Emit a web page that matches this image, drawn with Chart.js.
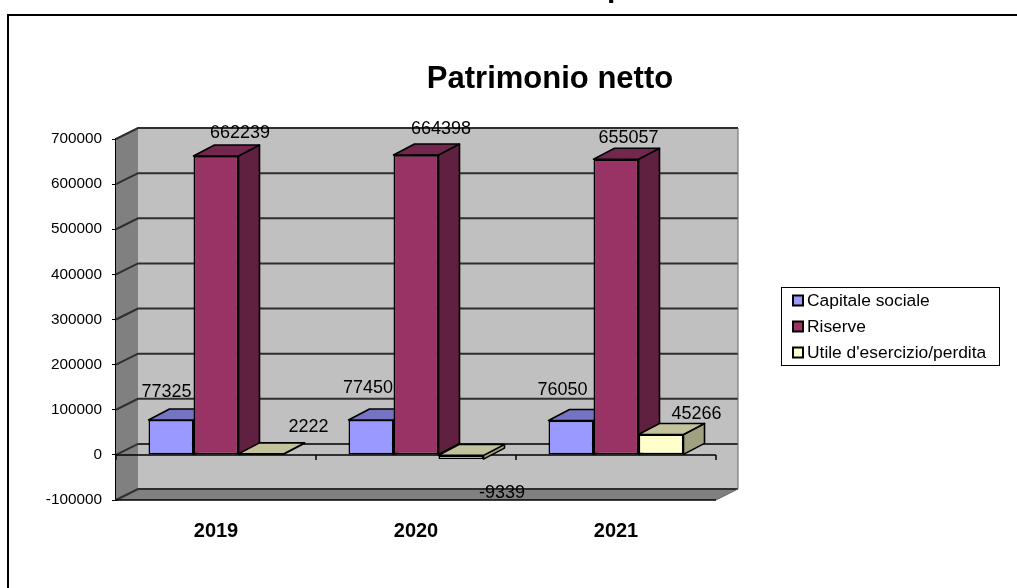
<!DOCTYPE html>
<html>
<head>
<meta charset="utf-8">
<title>Patrimonio netto</title>
<style>
    html, body { margin: 0; padding: 0; background: #fff; overflow: hidden; }
    canvas { display: block; filter: blur(0.4px); }
</style>
<script src="https://cdn.jsdelivr.net/npm/chart.js@4/dist/chart.umd.min.js"></script>
</head>
<body>
<canvas id="chart" width="1017" height="588"></canvas>
<script>
// ===== Data =====
const years = ["2019", "2020", "2021"];
const capitaleSociale = [77325, 77450, 76050];
const riserve = [662239, 664398, 655057];
const utilePerdita = [2222, -9339, 45266];

const FONT = "'Liberation Sans', Arial, sans-serif";
const WALL_DX = 22, WALL_DY = -11;
const BAR_DX = 21, BAR_DY = -11;

// label nudges from the top of each bar, Excel had them dragged around
const labelOffsets = [
    [[-4.5, -28], [-3, -32], [-8.5, -31]],
    [[24, -23], [25, -26.5], [12.5, -21]],
    [[47.5, -27], [41, 34], [35.5, -20.6]]
];

function shade(hex, f) {
    const n = parseInt(hex.slice(1), 16);
    const c = [n >> 16, (n >> 8) & 255, n & 255].map(v => Math.round(v * f));
    return `rgb(${c[0]},${c[1]},${c[2]})`;
}

function poly(ctx, pts, fill, stroke, lw) {
    ctx.beginPath();
    pts.forEach((p, i) => i ? ctx.lineTo(p[0], p[1]) : ctx.moveTo(p[0], p[1]));
    ctx.closePath();
    if (fill) { ctx.fillStyle = fill; ctx.fill(); }
    if (stroke) { ctx.strokeStyle = stroke; ctx.lineWidth = lw || 1; ctx.stroke(); }
}

// ===== 3D look =====
const box3d = {
    id: "box3d",
    afterLayout(chart) {
        // title sits over the whole chart + legend, not the plot
        chart.titleBlock.left = 250;
        chart.titleBlock.right = 850;
    },
    beforeDraw(chart) {
        const ctx = chart.ctx;
        ctx.save();
        // page frame and the cut off heading above it
        ctx.strokeStyle = "#000";
        ctx.lineWidth = 2;
        ctx.beginPath();
        ctx.moveTo(8, 588);
        ctx.lineTo(8, 15);
        ctx.lineTo(1017, 15);
        ctx.stroke();
        ctx.fillStyle = "#000";
        ctx.font = `bold 30px ${FONT}`;
        ctx.textAlign = "left";
        ctx.textBaseline = "alphabetic";
        ctx.fillText("p", 607, -3);
        ctx.restore();
    },
    beforeDatasetsDraw(chart) {
        const ctx = chart.ctx;
        const { left, right, top, bottom } = chart.chartArea;
        const y = chart.scales.y;
        const dx = WALL_DX, dy = WALL_DY;
        ctx.save();
        // back wall, side wall, floor
        poly(ctx, [[left + dx, top + dy], [right + dx, top + dy], [right + dx, bottom + dy], [left + dx, bottom + dy]], "#c0c0c0");
        poly(ctx, [[left, top], [left + dx, top + dy], [left + dx, bottom + dy], [left, bottom]], "#808080");
        poly(ctx, [[left, bottom], [right, bottom], [right + dx, bottom + dy], [left + dx, bottom + dy]], "#808080");
        // gridlines
        ctx.strokeStyle = "#2e2e2e";
        ctx.lineWidth = 2;
        y.ticks.forEach((t, i) => {
            const py = y.getPixelForTick(i);
            ctx.beginPath();
            ctx.moveTo(left, py);
            ctx.lineTo(left + dx, py + dy);
            ctx.lineTo(right + dx, py + dy);
            ctx.stroke();
        });
        ctx.lineWidth = 1;
        ctx.strokeStyle = "#666";
        ctx.beginPath();
        ctx.moveTo(right + dx, top + dy);
        ctx.lineTo(right + dx, bottom + dy);
        ctx.lineTo(right, bottom);
        ctx.stroke();
        // front edge at the bottom
        ctx.strokeStyle = "#000";
        ctx.lineWidth = 1.5;
        ctx.beginPath();
        ctx.moveTo(left, bottom);
        ctx.lineTo(right, bottom);
        ctx.stroke();
        // category axis sits at zero
        const y0 = y.getPixelForValue(0);
        const step = (right - left) / years.length;
        ctx.lineWidth = 1.5;
        ctx.beginPath();
        ctx.moveTo(left, y0);
        ctx.lineTo(right, y0);
        for (let i = 0; i <= years.length; i++) {
            ctx.moveTo(left + i * step, y0);
            ctx.lineTo(left + i * step, y0 + 5);
        }
        ctx.stroke();

        // depth faces of every bar go first, the library then paints the fronts over them
        ctx.lineJoin = "round";
        chart.data.datasets.forEach((ds, d) => {
            chart.getDatasetMeta(d).data.forEach(bar => {
                const l = bar.x - bar.width / 2, r = bar.x + bar.width / 2;
                const t = Math.min(bar.y, bar.base), b = Math.max(bar.y, bar.base);
                poly(ctx, [[r, t], [r + BAR_DX, t + BAR_DY], [r + BAR_DX, b + BAR_DY], [r, b]], shade(ds.backgroundColor, 0.63), "#000", 1.6);
                poly(ctx, [[l, t], [l + BAR_DX, t + BAR_DY], [r + BAR_DX, t + BAR_DY], [r, t]], shade(ds.backgroundColor, 0.76), "#000", 1.6);
            });
        });
        ctx.restore();
    },
    afterDatasetsDraw(chart) {
        const ctx = chart.ctx;
        ctx.save();
        ctx.fillStyle = "#000";
        ctx.font = `18px ${FONT}`;
        ctx.textAlign = "center";
        ctx.textBaseline = "middle";
        chart.data.datasets.forEach((ds, d) => {
            chart.getDatasetMeta(d).data.forEach((bar, i) => {
                const off = labelOffsets[d][i];
                ctx.fillText(String(ds.data[i]), bar.x + off[0], bar.y + off[1]);
            });
        });
        ctx.restore();
    },
    afterDraw(chart) {
        // legend box, out to the right of the plot
        const ctx = chart.ctx;
        ctx.save();
        ctx.strokeStyle = "#000";
        ctx.lineWidth = 1;
        ctx.strokeRect(781.5, 287.5, 218, 78);
        ctx.font = `17.4px ${FONT}`;
        ctx.textAlign = "left";
        ctx.textBaseline = "middle";
        chart.data.datasets.forEach((ds, i) => {
            const cy = 300.5 + i * 26;
            ctx.fillStyle = ds.backgroundColor;
            ctx.fillRect(793, cy - 5, 10, 10);
            ctx.strokeStyle = "#000";
            ctx.lineWidth = 2;
            ctx.strokeRect(793, cy - 5, 10, 10);
            ctx.fillStyle = "#000";
            ctx.fillText(ds.label, 807, cy + 0.5);
        });
        ctx.restore();
    }
};

// ===== Chart =====
Chart.defaults.font.family = FONT;
Chart.defaults.color = "#000";

new Chart(document.getElementById("chart").getContext("2d"), {
    type: "bar",
    plugins: [box3d],
    data: {
        labels: years,
        datasets: [
            { label: "Capitale sociale", data: capitaleSociale, backgroundColor: "#9999ff" },
            { label: "Riserve", data: riserve, backgroundColor: "#993366" },
            { label: "Utile d'esercizio/perdita", data: utilePerdita, backgroundColor: "#ffffcc" }
        ].map(ds => ({ ...ds, borderColor: "#000", borderWidth: 1.6, borderSkipped: false, barPercentage: 1, categoryPercentage: 0.675 }))
    },
    options: {
        responsive: false,
        animation: false,
        layout: { padding: { left: 40, right: 301, top: 0, bottom: 48 } },
        plugins: {
            legend: { display: false },
            tooltip: { enabled: false },
            title: {
                display: true,
                text: "Patrimonio netto",
                color: "#000",
                font: { size: 31, weight: "bold" },
                padding: { top: 61, bottom: 40.8 }
            }
        },
        scales: {
            x: {
                afterFit(scale) { scale.height = 40; },
                grid: { display: false },
                border: { display: false },
                ticks: { font: { size: 20, weight: "bold" }, padding: 11, maxRotation: 0 }
            },
            y: {
                min: -100000,
                max: 700000,
                afterFit(scale) { scale.width = 76; },
                grid: { drawOnChartArea: false, color: "#000", tickLength: 4 },
                border: { color: "#000", width: 2 },
                ticks: { stepSize: 100000, font: { size: 15.3 }, padding: 10, callback: v => String(v) }
            }
        }
    }
});
</script>
</body>
</html>
